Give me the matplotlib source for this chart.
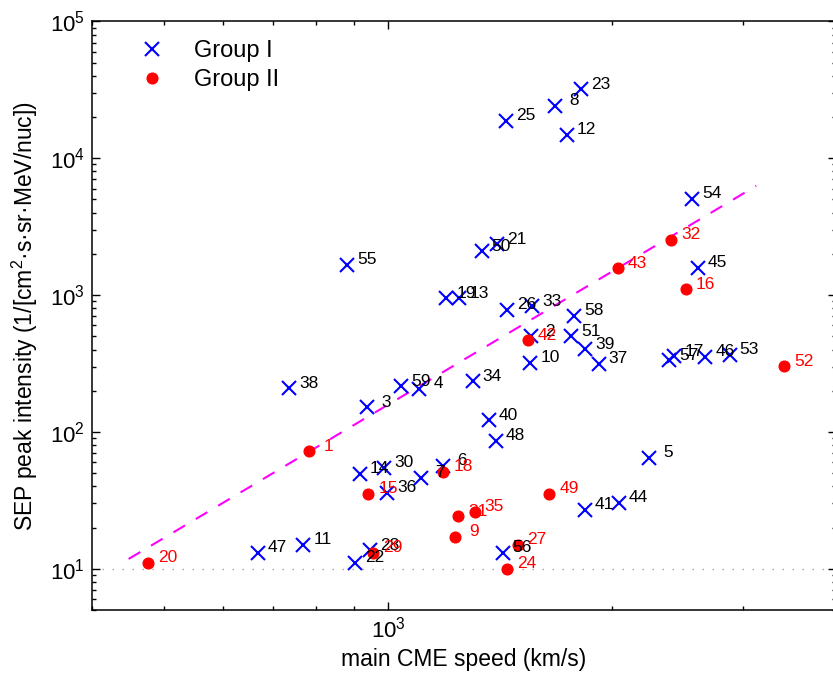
import numpy as np
import matplotlib
matplotlib.use('Agg')
import matplotlib.pyplot as plt
from matplotlib.ticker import NullFormatter, LogLocator

plt.rcParams['font.family'] = ['Liberation Sans', 'DejaVu Sans']
plt.rcParams['mathtext.fontset'] = 'custom'
plt.rcParams['mathtext.rm'] = 'Liberation Sans'
plt.rcParams['mathtext.it'] = 'Liberation Sans:italic'
plt.rcParams['mathtext.default'] = 'regular'

# group I events (blue crosses)
g1_id = [55, 38, 3, 59, 4, 14, 30, 36, 7, 6, 28, 22, 47, 11, 19, 13, 26, 33, 58, 2,
         51, 39, 37, 10, 34, 57, 17, 46, 53, 40, 48, 5, 41, 44, 56, 23, 8, 25, 12,
         54, 45, 50, 21]
g1_speed = [882, 736, 938, 1042, 1101, 916, 988, 998, 1109, 1186, 946, 902, 668, 769,
            1198, 1246, 1447, 1561, 1780, 1556, 1762, 1841, 1919, 1553, 1299, 2388,
            2426, 2668, 2877, 1367, 1396, 2241, 1840, 2042, 1425, 1817, 1678, 1440,
            1740, 2560, 2608, 1336, 1403]
g1_peak = [1664, 209, 151, 215, 206, 49.4, 54.6, 35.9, 46.2, 56.8, 13.7, 11.06, 13.1,
           15.0, 951, 951, 781, 826, 706, 499, 499, 403, 315, 319, 234, 333, 356, 353,
           367, 121.6, 86.4, 64.6, 27.1, 30.3, 13.1, 31900, 24100, 18800, 14800, 5040,
           1589, 2081, 2357]

# group II events (red dots)
g2_id = [20, 1, 15, 18, 29, 42, 52, 49, 31, 35, 9, 27, 24, 16, 32, 43]
g2_speed = [476, 783, 941, 1186, 955, 1540, 3404, 1647, 1242, 1308, 1231, 1493, 1445,
            2515, 2401, 2035]
g2_peak = [11.06, 72, 35.3, 51, 13.1, 466, 301, 35.3, 24.2, 26.1, 17.1, 15.0, 10.0,
           1106, 2533, 1574]

# dashed fit line end points
fit_speed = [448, 3125]
fit_peak = [11.8, 6280]

fig = plt.figure(figsize=(8.33, 6.83), dpi=100)
ax = fig.add_axes([92/833, 1-610/683, 744/833, (610-21.3)/683])

ax.set_xscale('log')
ax.set_yscale('log')

# background threshold line at 10
ax.axhline(10, color='0.65', linestyle=(0, (1, 6.2)), linewidth=1.0, zorder=1)

ax.plot(fit_speed, fit_peak, color='#ff00ff', linewidth=1.5,
        linestyle=(0, (6.5, 6.0)), zorder=2)

ax.plot(g1_speed, g1_peak, linestyle='none', marker='x', color='#0000ff',
        markersize=9.4, markeredgewidth=1.5, label='Group I', zorder=3)
ax.plot(g2_speed, g2_peak, linestyle='none', marker='o', color='#ff0000',
        markersize=7.7, label='Group II', zorder=3)

# event numbers next to the markers
for i, x, y in zip(g1_id, g1_speed, g1_peak):
    ax.annotate('%2d' % i, (x, y), xytext=(7.2, 3.6), textcoords='offset points',
                ha='left', va='center', fontsize=12.5, color='k', zorder=4)
for i, x, y in zip(g2_id, g2_speed, g2_peak):
    ax.annotate('%2d' % i, (x, y), xytext=(7.2, 3.6), textcoords='offset points',
                ha='left', va='center', fontsize=12.5, color='#ff0000', zorder=4)

ax.set_xlim(400, 4000)
ax.set_ylim(5, 1e5)

ax.xaxis.set_minor_locator(LogLocator(base=10, subs=np.arange(2, 10)))
ax.xaxis.set_minor_formatter(NullFormatter())
ax.yaxis.set_minor_formatter(NullFormatter())
ax.tick_params(which='both', direction='in', top=True, right=True,
               labelsize=16, width=1.0)
ax.tick_params(which='major', length=5.5, pad=5)
ax.tick_params(which='minor', length=3.2)
for s in ax.spines.values():
    s.set_linewidth(1.1)

ax.set_xlabel('main CME speed (km/s)', fontsize=16.5, labelpad=4)
ax.set_ylabel('SEP peak intensity (1/[cm$^2$·s·sr·MeV/nuc])', fontsize=16.5)
ax.yaxis.set_label_coords(-0.070, 0.5)

ax.legend(loc='upper left', bbox_to_anchor=(0.036, 0.984), borderaxespad=0,
          frameon=False, fontsize=17, numpoints=1, handlelength=2,
          handletextpad=0.8, labelspacing=0.3)

fig.savefig('out.png', dpi=100)
